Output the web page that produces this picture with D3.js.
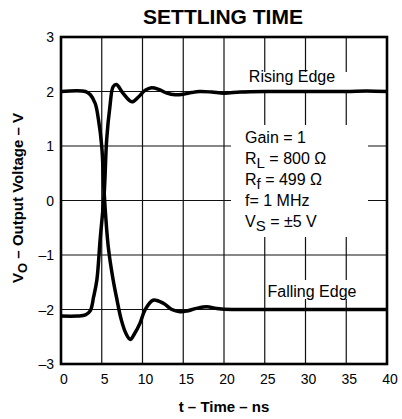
<!DOCTYPE html>
<html><head><meta charset="utf-8">
<script src="https://cdn.jsdelivr.net/npm/d3@7/dist/d3.min.js"></script>
<style>body{margin:0;background:#fff}svg{display:block;font-family:"Liberation Sans",Arial,sans-serif}</style>
</head><body><svg id="c" width="402" height="419"></svg>
<script>
const xTicks = [0,5,10,15,20,25,30,35,40];
const yTicks = [-3,-2,-1,0,1,2,3];
const risingT = [0,2,3,3.6,4.0,4.4,4.8,5.3,5.6,6.0,6.4,6.8,7.6,8.7,9.5,10.3,11.1,12.0,13.0,14.0,15.0,16.0,17.0,18.5,20.0,22,25,30,35,37.5,40];
const risingV = [-2.12,-2.12,-2.1,-2.02,-1.77,-1.46,-0.72,0.13,1.11,1.72,2.09,2.13,1.97,1.81,1.9,2.02,2.07,2.04,1.97,1.94,1.95,1.98,2.0,1.99,1.97,1.99,2.0,2.0,2.0,2.01,2.0];
const fallingT = [0,3.0,3.6,4.2,4.6,5.0,5.3,5.8,6.4,6.8,7.4,8.0,8.5,9.0,9.7,10.3,11.3,12.6,13.6,14.6,15.4,16.6,17.9,19.1,21,25,30,35,40];
const fallingV = [2.0,2.0,1.94,1.78,1.48,0.99,0.13,-0.85,-1.46,-1.77,-2.19,-2.45,-2.55,-2.45,-2.25,-2.01,-1.83,-1.89,-2.0,-2.04,-2.03,-1.98,-1.95,-1.98,-2.0,-2.0,-2.0,-2.0,-2.0];

const svg = d3.select("#c");
const L=61,R=387,T=37,B=364;
const x = d3.scaleLinear().domain([0,40]).range([L,R]);
const y = d3.scaleLinear().domain([-3,3]).range([B,T]);

// title
svg.append("text").attr("x",223).attr("y",24).attr("text-anchor","middle")
  .attr("font-size",21).attr("font-weight","bold").text("SETTLING TIME");

// grid
const g = svg.append("g");
g.selectAll(".vx").data(xTicks.slice(1,-1)).join("line")
  .attr("x1",d=>x(d)).attr("x2",d=>x(d)).attr("y1",T).attr("y2",B)
  .attr("stroke","#111").attr("stroke-width",1.2);
g.selectAll(".hy").data(yTicks.slice(1,-1)).join("line")
  .attr("y1",d=>y(d)).attr("y2",d=>y(d)).attr("x1",L).attr("x2",R)
  .attr("stroke","#111").attr("stroke-width",1.2);

// white masks behind labels
const masks = [[240,72,122,19],[268,280,97,19],[231,125,137,112]];
svg.selectAll(".m").data(masks).join("rect")
  .attr("x",d=>d[0]).attr("y",d=>d[1]).attr("width",d=>d[2]).attr("height",d=>d[3]).attr("fill","#fff");

// curves
const line = d3.line().x(d=>x(d[0])).y(d=>y(d[1])).curve(d3.curveCatmullRom.alpha(0.5));
svg.append("path").datum(risingT.map((t,i)=>[t,risingV[i]])).attr("d",line)
  .attr("fill","none").attr("stroke","#000").attr("stroke-width",3.5).attr("stroke-linejoin","round");
svg.append("path").datum(fallingT.map((t,i)=>[t,fallingV[i]])).attr("d",line)
  .attr("fill","none").attr("stroke","#000").attr("stroke-width",3.5).attr("stroke-linejoin","round");

// frame
svg.append("rect").attr("x",L).attr("y",T).attr("width",R-L).attr("height",B-T)
  .attr("fill","none").attr("stroke","#000").attr("stroke-width",2.6);

// tick labels
svg.selectAll(".xt").data(xTicks).join("text")
  .attr("x",d=>x(d)+3).attr("y",384).attr("text-anchor","middle").attr("font-size",14)
  .text(d=>d);
svg.selectAll(".yt").data(yTicks).join("text")
  .attr("x",54).attr("y",d=>y(d)+5).attr("text-anchor","end").attr("font-size",14)
  .text(d=>d<0?"\u2013"+Math.abs(d):d);

// axis titles
svg.append("text").attr("x",224).attr("y",412).attr("text-anchor","middle")
  .attr("font-size",15).attr("font-weight","bold").text("t \u2013 Time \u2013 ns");
const yl = svg.append("text").attr("transform","translate(23,198) rotate(-90)")
  .attr("text-anchor","middle").attr("font-size",15).attr("font-weight","bold");
yl.append("tspan").text("V");
yl.append("tspan").attr("dy",4).attr("font-size",13).text("O");
yl.append("tspan").attr("dy",-4).text(" \u2013 Output Voltage \u2013 V");

// labels
svg.append("text").attr("x",292).attr("y",82).attr("text-anchor","middle").attr("font-size",16).text("Rising Edge");
svg.append("text").attr("x",312).attr("y",297).attr("text-anchor","middle").attr("font-size",16).text("Falling Edge");

const ann = [["Gain = 1","",""],["R","L"," = 800 \u03A9"],["R","f"," = 499 \u03A9"],["f= 1 MHz","",""],["V","S"," = \u00B15 V"]];
ann.forEach((a,i)=>{
  const t = svg.append("text").attr("x",245).attr("y",143+i*21).attr("font-size",16);
  t.append("tspan").text(a[0]);
  if(a[1]){
    t.append("tspan").attr("dy",4).attr("font-size",15).text(a[1]);
    t.append("tspan").attr("dy",-4).text(a[2]);
  }
});
</script></body></html>
